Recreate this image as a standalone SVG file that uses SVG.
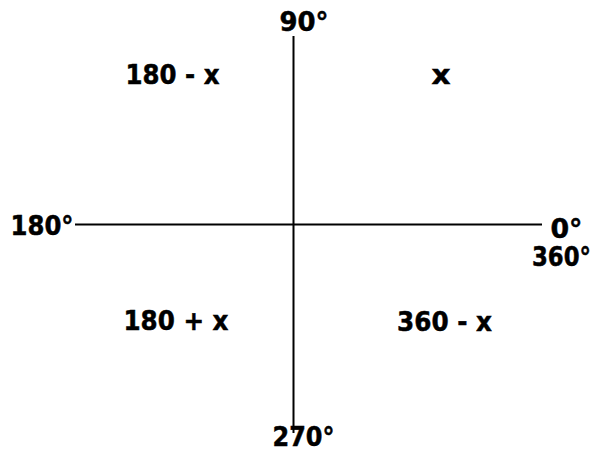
<svg xmlns="http://www.w3.org/2000/svg" width="598" height="453" viewBox="0 0 598 453">
<style>
.t{font-family:"DejaVu Sans","Verdana",sans-serif;font-weight:bold;font-size:26px;fill:#000;stroke:#000;stroke-width:0.5}
.ax{stroke:#000;stroke-width:2;fill:none}
</style>
<rect width="598" height="453" fill="#fff"/>
<g id="connectors">
<line class="ax" x1="293.5" y1="36" x2="293.5" y2="433"/>
<line class="ax" x1="75" y1="224.5" x2="542" y2="224.5"/>
</g>
<g id="label-90"><text class="t" x="279.5" y="30.5" textLength="49" lengthAdjust="spacingAndGlyphs">90°</text></g>
<g id="label-180"><text class="t" x="10.5" y="235" textLength="63" lengthAdjust="spacingAndGlyphs">180°</text></g>
<g id="label-0"><text class="t" x="550.5" y="238" textLength="32" lengthAdjust="spacingAndGlyphs">0°</text></g>
<g id="label-360"><text class="t" x="532" y="266" textLength="59" lengthAdjust="spacingAndGlyphs">360°</text></g>
<g id="label-270"><text class="t" x="272.5" y="446" textLength="62" lengthAdjust="spacingAndGlyphs">270°</text></g>
<g id="q2"><text class="t" x="125.5" y="84" textLength="94" lengthAdjust="spacingAndGlyphs">180 - x</text></g>
<g id="q1"><text class="t" x="431.5" y="84" textLength="19" lengthAdjust="spacingAndGlyphs">x</text></g>
<g id="q3"><text class="t" x="123.5" y="329.5" textLength="105" lengthAdjust="spacingAndGlyphs">180 + x</text></g>
<g id="q4"><text class="t" x="397" y="330.5" textLength="95" lengthAdjust="spacingAndGlyphs">360 - x</text></g>
</svg>
